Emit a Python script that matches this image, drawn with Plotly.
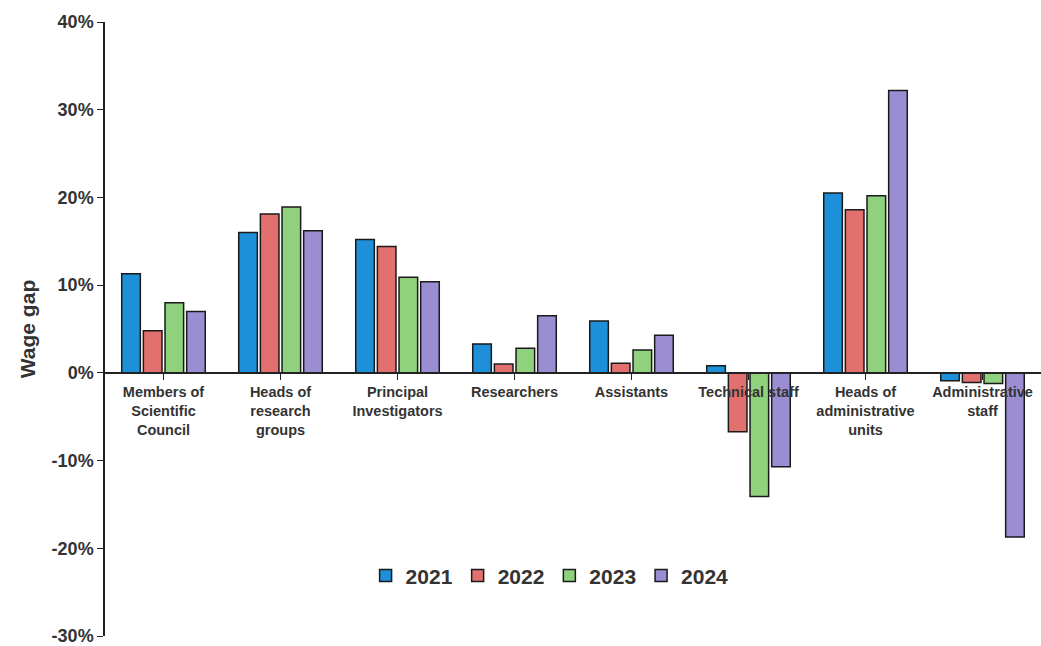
import plotly.graph_objects as go

# Staff categories shown along the x axis
categories = [
    "Members of<br>Scientific<br>Council",
    "Heads of<br>research<br>groups",
    "Principal<br>Investigators",
    "Researchers",
    "Assistants",
    "Technical staff",
    "Heads of<br>administrative<br>units",
    "Administrative<br>staff",
]

# Wage gap (%) per year
gap_2021 = [11.3, 16.0, 15.2, 3.3, 5.9, 0.8, 20.5, -0.9]
gap_2022 = [4.8, 18.1, 14.4, 1.0, 1.1, -6.7, 18.6, -1.1]
gap_2023 = [8.0, 18.9, 10.9, 2.8, 2.6, -14.1, 20.2, -1.2]
gap_2024 = [7.0, 16.2, 10.4, 6.5, 4.3, -10.7, 32.2, -18.7]

years = ["2021", "2022", "2023", "2024"]
series = [gap_2021, gap_2022, gap_2023, gap_2024]
colors = ["#1e90da", "#e2706f", "#8fd17c", "#9a8dd2"]

# Y axis ticks (plain hyphen for negatives)
y_ticks = [-30, -20, -10, 0, 10, 20, 30, 40]
y_tick_labels = [f"<b>{v}%</b>" for v in y_ticks]

y_min, y_max = -30, 40
font_family = "Liberation Sans, Arial, sans-serif"

fig = go.Figure()
for year, vals, col in zip(years, series, colors):
    fig.add_trace(go.Bar(
        x=list(range(len(categories))),
        y=vals,
        name=f"<b>{year}</b>",
        marker=dict(color=col, line=dict(color="#1a1a1a", width=1.5)),
    ))

fig.update_layout(
    width=1041,
    height=646,
    margin=dict(l=105, r=0, t=22, b=10),
    paper_bgcolor="white",
    plot_bgcolor="white",
    barmode="group",
    bargap=0.26,
    bargroupgap=0.14,
    font=dict(family=font_family, color="#333333"),
    showlegend=True,
    legend=dict(
        orientation="h",
        x=0.475,
        xanchor="center",
        y=0.098,
        yanchor="middle",
        font=dict(size=21, color="#333333", family=font_family),
        itemwidth=30,
        traceorder="normal",
        bgcolor="rgba(0,0,0,0)",
    ),
    xaxis=dict(
        range=[-0.5, len(categories) - 0.5],
        tickmode="array",
        tickvals=list(range(len(categories))),
        ticktext=[f"<b>{c}</b>" for c in categories],
        tickfont=dict(size=14.5, color="#333333"),
        tickson="boundaries",
        ticks="outside",
        ticklen=6,
        tickcolor="#222222",
        showline=True,
        linecolor="#222222",
        linewidth=1.5,
        showgrid=False,
        zeroline=False,
        anchor="free",
        position=(0 - y_min) / (y_max - y_min),
    ),
    yaxis=dict(
        range=[y_min, y_max],
        tickmode="array",
        tickvals=y_ticks,
        ticktext=y_tick_labels,
        tickfont=dict(size=18, color="#333333"),
        ticklabeloverflow="allow",
        ticks="outside",
        ticklen=6,
        tickcolor="#222222",
        showline=True,
        linecolor="#222222",
        linewidth=1.5,
        showgrid=False,
        zeroline=False,
        title=dict(text="<b>Wage gap</b>", font=dict(size=21, color="#333333"), standoff=10),
    ),
)

fig.write_html("out.html")
